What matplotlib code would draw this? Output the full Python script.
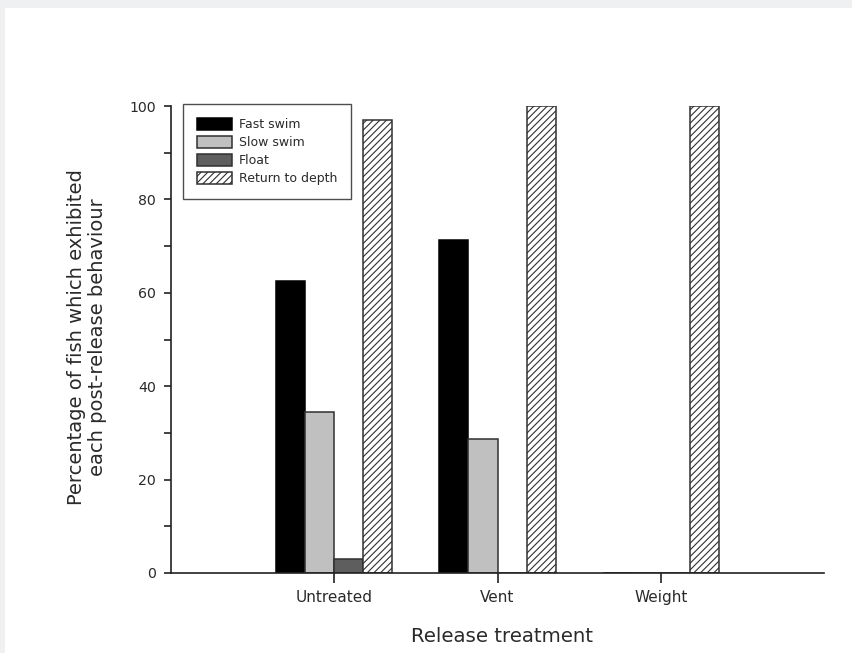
import matplotlib
matplotlib.use("Agg")
import matplotlib.pyplot as plt
import numpy as np
from matplotlib.patches import Rectangle

# ---- data ----
categories = ["Untreated", "Vent", "Weight"]
series_names = ["Fast swim", "Slow swim", "Float", "Return to depth"]
fast_swim = [62.5, 71.4, 0.0]
slow_swim = [34.4, 28.6, 0.0]
float_vals = [3.1, 0.0, 0.0]
return_to_depth = [96.9, 100.0, 100.0]
yticks = [0, 20, 40, 60, 80, 100]

plt.rcParams['font.family'] = ['DejaVu Sans']
plt.rcParams['hatch.linewidth'] = 0.8
plt.rcParams['hatch.color'] = '#383838'

W, H = 853, 653
fig = plt.figure(figsize=(W / 100, H / 100), dpi=100, facecolor='white')

# light grey page border (top and left)
fig.patches.append(Rectangle((0, 1 - 8 / H), 1, 8 / H, transform=fig.transFigure,
                             facecolor='#eff0f2', edgecolor='none', zorder=0))
fig.patches.append(Rectangle((0, 0), 5 / W, 1, transform=fig.transFigure,
                             facecolor='#eff0f2', edgecolor='none', zorder=0))

left, right, bottom, top = 171, 824, 573, 106
ax = fig.add_axes([left / W, (H - bottom) / H, (right - left) / W, (bottom - top) / H])
ax.set_facecolor('white')

x = np.arange(len(categories))
w = 0.178
styles = [
    dict(color='black', edgecolor='black'),
    dict(color='#c0c0c0', edgecolor='#303030'),
    dict(color='#5e5e5e', edgecolor='#303030'),
    dict(color='white', edgecolor='#303030', hatch='/////'),
]
all_vals = [fast_swim, slow_swim, float_vals, return_to_depth]
for i, (vals, st) in enumerate(zip(all_vals, styles)):
    ax.bar(x + (i - 1.5) * w, vals, width=w, linewidth=1.1, label=series_names[i],
           zorder=2, **st)

ax.set_xlim(-1, 3)
ax.set_ylim(0, 100)
ax.set_xticks(x)
ax.set_xticklabels(categories)
ax.set_yticks(yticks)
ax.set_yticks(np.arange(10, 100, 20), minor=True)

for s in ['top', 'right']:
    ax.spines[s].set_visible(False)
for s in ['left', 'bottom']:
    ax.spines[s].set_linewidth(1.2)
    ax.spines[s].set_color('#222222')
    ax.spines[s].set_zorder(3)

txt = '#2a2a2a'
ax.tick_params(axis='x', which='major', direction='out', length=7, width=1.2,
               colors='#222222', labelcolor=txt, labelsize=11, pad=5)
ax.tick_params(axis='y', which='major', direction='out', length=5, width=1.2,
               colors='#222222', labelcolor=txt, labelsize=10.2, pad=6)
ax.tick_params(axis='y', which='minor', direction='out', length=5, width=1.2,
               colors='#222222')

fig.text(87 / W, 1 - 337 / H,
         "Percentage of fish which exhibited\neach post-release behaviour",
         rotation=90, ha='center', va='center', fontsize=14, color=txt,
         linespacing=1.15)
fig.text(502 / W, 1 - 637 / H, "Release treatment", ha='center', va='center',
         fontsize=14.2, color=txt)

leg = ax.legend(loc='upper left', bbox_to_anchor=(183 / W, 1 - 104 / H),
                bbox_transform=fig.transFigure, borderaxespad=0,
                fontsize=9, frameon=True, fancybox=False, edgecolor='#222222',
                handlelength=2.8, handleheight=1.1, handletextpad=0.55,
                labelspacing=0.38, borderpad=1.1)
leg.get_frame().set_linewidth(1.0)
for t in leg.get_texts():
    t.set_color(txt)
leg.set_zorder(5)

fig.savefig('out.png', dpi=100, facecolor=fig.get_facecolor())
